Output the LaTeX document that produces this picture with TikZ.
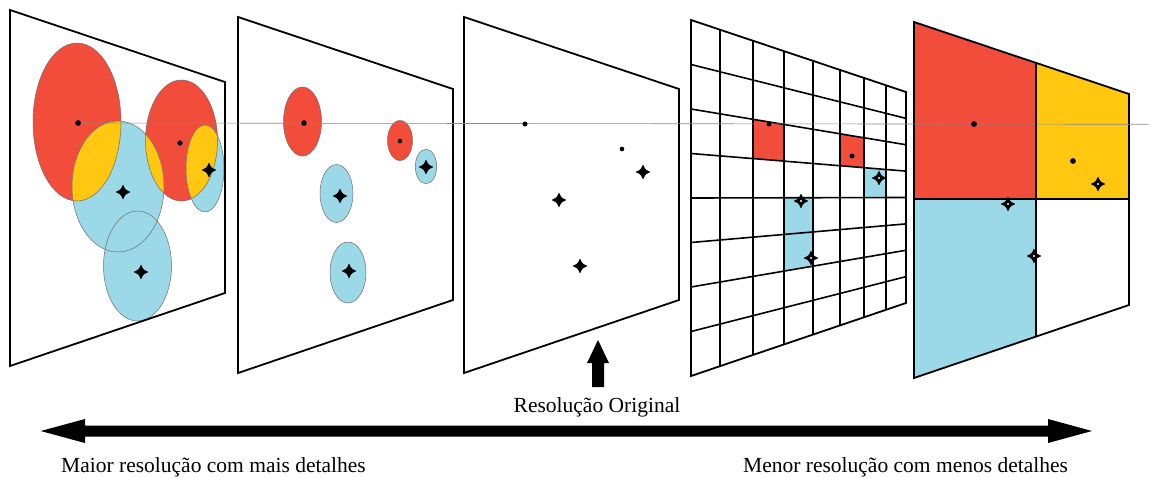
\documentclass[tikz,border=0pt]{standalone}
\usepackage{fontspec}
\setmainfont{Liberation Serif}
\usetikzlibrary{calc}
\definecolor{blobred}{HTML}{F24C3A}
\definecolor{blobyellow}{HTML}{FFC70F}
\definecolor{blobblue}{HTML}{9BD8E8}
\definecolor{rimgray}{HTML}{6E6E6E}
\definecolor{guidegray}{HTML}{8A8A8A}
% four-pointed concave star used for the cross-shaped markers
\newcommand\starshape{(0,-6.8) .. controls (2.1,-2.1) .. (6.8,0) .. controls (2.1,2.1) .. (0,6.8) .. controls (-2.1,2.1) .. (-6.8,0) .. controls (-2.1,-2.1) .. cycle}
% filled cell of the perspective grid: colour, column fractions, row lines
\newcommand\gridcell[5]{\fill[#1] ($(L#4)!#2!(R#4)$) -- ($(L#4)!#3!(R#4)$) -- ($(L#5)!#3!(R#5)$) -- ($(L#5)!#2!(R#5)$) -- cycle;}
\begin{document}
\begin{tikzpicture}[x=1pt,y=-1pt,
  frame/.style={draw=black,line width=1.8pt,line join=miter},
  rim/.style={draw=rimgray,line width=0.5pt},
  gridline/.style={draw=black,line width=1.6pt},
  guide/.style={draw=guidegray,line width=0.6pt},
  dotmark/.style={fill=black},
  pics/starmark/.style={code={\filldraw[black,line width=0.6pt,line join=round] \starshape;}},
  pics/hollowstar/.style={code={\filldraw[black,line width=0.6pt,line join=round] \starshape; \fill[white] (0,0) circle [radius=1.1];}},
  caption/.style={font=\rmfamily\fontsize{21.5}{26}\selectfont,inner sep=0pt},
]
\fill[white] (0,0) rectangle (1149,477);
\useasboundingbox (0,0) rectangle (1149,477);

% ---------- panel 1: overlapping regions ----------
\fill[blobred] (77,122) ellipse [x radius=44, y radius=79];
\fill[blobred] (181.5,140.5) ellipse [x radius=36, y radius=60.5];
\fill[blobblue] (118,186.5) ellipse [x radius=46, y radius=65.5];
\fill[blobblue] (205,168.5) ellipse [x radius=19, y radius=43.5];
\fill[blobblue] (137.5,266) ellipse [x radius=34, y radius=55];
\begin{scope}
  \clip (77,122) ellipse [x radius=44, y radius=79];
  \fill[blobyellow] (118,186.5) ellipse [x radius=46, y radius=65.5];
\end{scope}
\begin{scope}
  \clip (181.5,140.5) ellipse [x radius=36, y radius=60.5];
  \fill[blobyellow] (118,186.5) ellipse [x radius=46, y radius=65.5];
  \fill[blobyellow] (205,168.5) ellipse [x radius=19, y radius=43.5];
\end{scope}
\draw[rim] (77,122) ellipse [x radius=44, y radius=79];
\draw[rim] (181.5,140.5) ellipse [x radius=36, y radius=60.5];
\draw[rim] (118,186.5) ellipse [x radius=46, y radius=65.5];
\draw[rim] (205,168.5) ellipse [x radius=19, y radius=43.5];
\draw[rim] (137.5,266) ellipse [x radius=34, y radius=55];
\draw[frame] (10,10) -- ++(215,72) -- ++(0,211) -- ++(-215,73) -- cycle;

% ---------- panel 2: separated regions ----------
\draw[rim, fill=blobred] (302.5,121.5) ellipse [x radius=19, y radius=34.5];
\draw[rim, fill=blobred] (400,140.5) ellipse [x radius=12.5, y radius=20];
\draw[rim, fill=blobblue] (426,166.5) ellipse [x radius=10.7, y radius=17.2];
\draw[rim, fill=blobblue] (336.5,193.5) ellipse [x radius=16.5, y radius=29];
\draw[rim, fill=blobblue] (348,272.5) ellipse [x radius=18, y radius=30.5];
\draw[frame] (238,17) -- ++(215,72) -- ++(0,211) -- ++(-215,73) -- cycle;

% ---------- panel 3: original points ----------
\draw[frame] (464,17) -- ++(215,72) -- ++(0,211) -- ++(-215,73) -- cycle;

% ---------- panel 4: fine perspective grid ----------
\foreach \k in {0,...,8} {
  \coordinate (L\k) at (691,{20+44.5*\k});
  \coordinate (R\k) at (906,{92+26.375*\k});
}
\gridcell{blobred}{0.2884}{0.4326}{2}{3}
\gridcell{blobred}{0.6930}{0.8047}{2}{3}
\gridcell{blobblue}{0.8047}{0.9070}{3}{4}
\gridcell{blobblue}{0.4326}{0.5674}{4}{6}
\foreach \k in {1,...,7} \draw[gridline] (L\k) -- (R\k);
\foreach \t in {0.1349,0.2884,0.4326,0.5674,0.6930,0.8047,0.9070}
  \draw[gridline] ($(L0)!\t!(R0)$) -- ($(L8)!\t!(R8)$);
\draw[frame] (L0) -- (R0) -- (R8) -- (L8) -- cycle;

% ---------- panel 5: coarse 2x2 grid ----------
\coordinate (TL) at (914,22);
\coordinate (TR) at (1129,94);
\coordinate (BR) at (1129,305);
\coordinate (BL) at (914,378);
\coordinate (TM) at ($(TL)!0.5674!(TR)$);
\coordinate (BM) at ($(BL)!0.5674!(BR)$);
\coordinate (ML) at (914,199);
\coordinate (MR) at (1129,199);
\coordinate (MM) at ($(ML)!0.5674!(MR)$);
\fill[blobred] (TL) -- (TM) -- (MM) -- (ML) -- cycle;
\fill[blobyellow] (TM) -- (TR) -- (MR) -- (MM) -- cycle;
\fill[blobblue] (ML) -- (MM) -- (BM) -- (BL) -- cycle;
\draw[gridline] (ML) -- (MR);
\draw[gridline] (TM) -- (BM);
\draw[frame] (TL) -- (TR) -- (BR) -- (BL) -- cycle;

% ---------- guide line through the first point ----------
\coordinate (guidestart) at (78,123);
\coordinate (guideend) at (1149,124.3);
\draw[guide] (guidestart) -- (guideend);

% ---------- points and markers ----------
\fill[dotmark] (78,123) circle [radius=2.9];
\fill[dotmark] (180,143) circle [radius=2.7];
\pic at (123,192) {starmark};
\pic at (209,170) {starmark};
\pic at (141,272) {starmark};

\fill[dotmark] (304,123) circle [radius=2.8];
\fill[dotmark] (400,141) circle [radius=2.3];
\pic at (340,196) {starmark};
\pic at (426,167) {starmark};
\pic at (349,271) {starmark};

\fill[dotmark] (525,124) circle [radius=2.5];
\fill[dotmark] (622,149) circle [radius=2.3];
\pic at (643,172) {starmark};
\pic at (559,200) {starmark};
\pic at (580,266) {starmark};

\fill[dotmark] (769,124) circle [radius=2.5];
\fill[dotmark] (852,156) circle [radius=2.5];
\pic at (879,178) {hollowstar};
\pic at (801,201) {hollowstar};
\pic at (811,258) {hollowstar};

\fill[dotmark] (974,124) circle [radius=2.9];
\fill[dotmark] (1073,161) circle [radius=2.9];
\pic at (1098,184) {hollowstar};
\pic at (1008,204) {hollowstar};
\pic at (1034,256) {hollowstar};

% ---------- arrow to the original resolution ----------
\fill[black] (598,340) -- (609,363) -- (604,363) -- (604,387) -- (592,387) -- (592,363) -- (587,363) -- cycle;
\node[caption, anchor=base] (orig) at (597,412) {Resolução Original};

% ---------- resolution scale ----------
\fill[black] (40.7,431) -- (85,419) -- (85,425.5) -- (1048,425.5) -- (1048,419) -- (1092,431)
  -- (1048,443) -- (1048,436.5) -- (85,436.5) -- (85,443) -- cycle;
\node[caption, anchor=base west] (hi) at (61,472) {Maior resolução com mais detalhes};
\node[caption, anchor=base west] (lo) at (743,472) {Menor resolução com menos detalhes};
\end{tikzpicture}
\end{document}
